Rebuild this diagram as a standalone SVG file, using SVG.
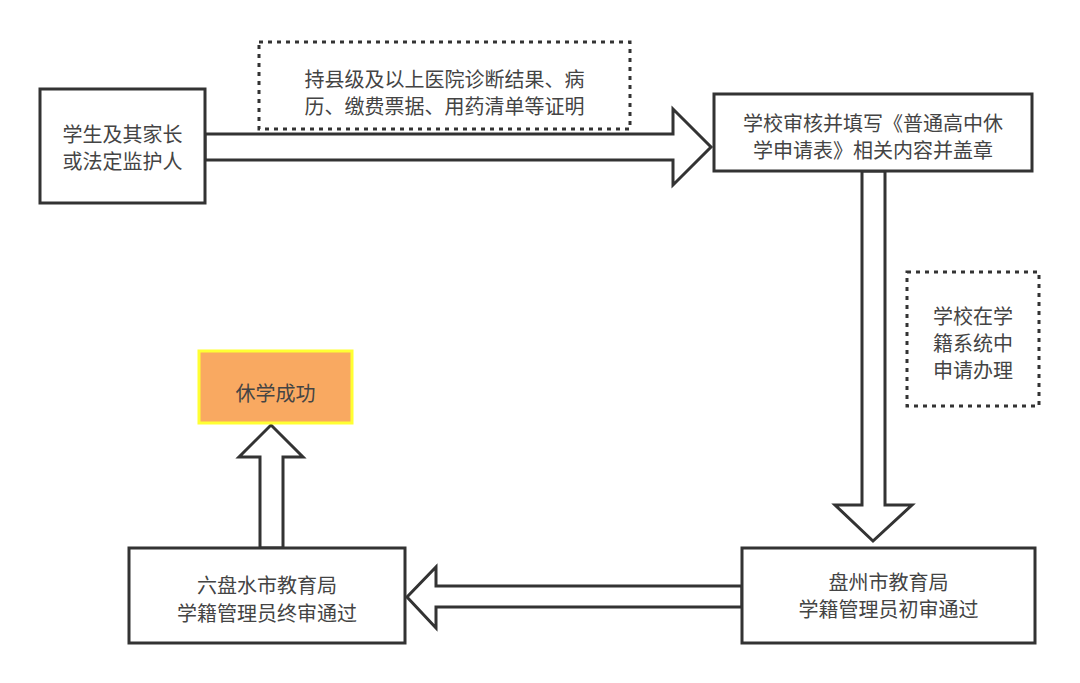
<svg xmlns="http://www.w3.org/2000/svg" width="1080" height="683" viewBox="0 0 1080 683">
  <style>
    .box { fill: #ffffff; stroke: #333333; stroke-width: 3; }
    .note { fill: none; stroke: #333333; stroke-width: 3; stroke-dasharray: 4 5; }
    .ok { fill: #F9A961; stroke: #FFFF33; stroke-width: 3; }
    .arrow { fill: #ffffff; stroke: #333333; stroke-width: 3; stroke-linejoin: miter; }
    text { font-family: "Noto Sans CJK SC", "Noto Sans", sans-serif; font-size: 20px; fill: #444444; text-anchor: middle; dominant-baseline: central; }
  </style>
  <rect width="1080" height="683" fill="#ffffff"/>

  <g id="connectors">
    <polygon class="arrow" points="205,134 673,134 673,109 711,147 673,185 673,160 205,160"/>
    <polygon class="arrow" points="862,171 862,505 835,505 873,541 912,505 885,505 885,171"/>
    <polygon class="arrow" points="742,586 436,586 436,567 407,597 436,628 436,607 742,607"/>
    <polygon class="arrow" points="260,548 260,457 239,457 271,425 303,457 283,457 283,548"/>
  </g>

  <g id="node-student">
    <rect class="box" x="40" y="89" width="165" height="114"/>
    <text><tspan x="122.5" y="133">学生及其家长</tspan><tspan x="122.5" y="160">或法定监护人</tspan></text>
  </g>

  <g id="note-documents">
    <rect class="note" x="259" y="42" width="371" height="87"/>
    <text><tspan x="444.5" y="78">持县级及以上医院诊断结果、病</tspan><tspan x="444.5" y="105">历、缴费票据、用药清单等证明</tspan></text>
  </g>

  <g id="node-school">
    <rect class="box" x="714" y="94" width="318" height="77"/>
    <text><tspan x="873" y="122">学校审核并填写《普通高中休</tspan><tspan x="873" y="149">学申请表》相关内容并盖章</tspan></text>
  </g>

  <g id="note-system">
    <rect class="note" x="907" y="272" width="132" height="134"/>
    <text><tspan x="973" y="315">学校在学</tspan><tspan x="973" y="342">籍系统中</tspan><tspan x="973" y="369">申请办理</tspan></text>
  </g>

  <g id="node-panzhou">
    <rect class="box" x="742" y="548" width="293" height="95"/>
    <text><tspan x="888.5" y="581">盘州市教育局</tspan><tspan x="888.5" y="608">学籍管理员初审通过</tspan></text>
  </g>

  <g id="node-liupanshui">
    <rect class="box" x="129" y="548" width="276" height="95"/>
    <text><tspan x="267" y="584">六盘水市教育局</tspan><tspan x="267" y="612">学籍管理员终审通过</tspan></text>
  </g>

  <g id="node-success">
    <rect class="ok" x="199" y="351" width="153" height="72"/>
    <text x="275.5" y="392">休学成功</text>
  </g>
</svg>
